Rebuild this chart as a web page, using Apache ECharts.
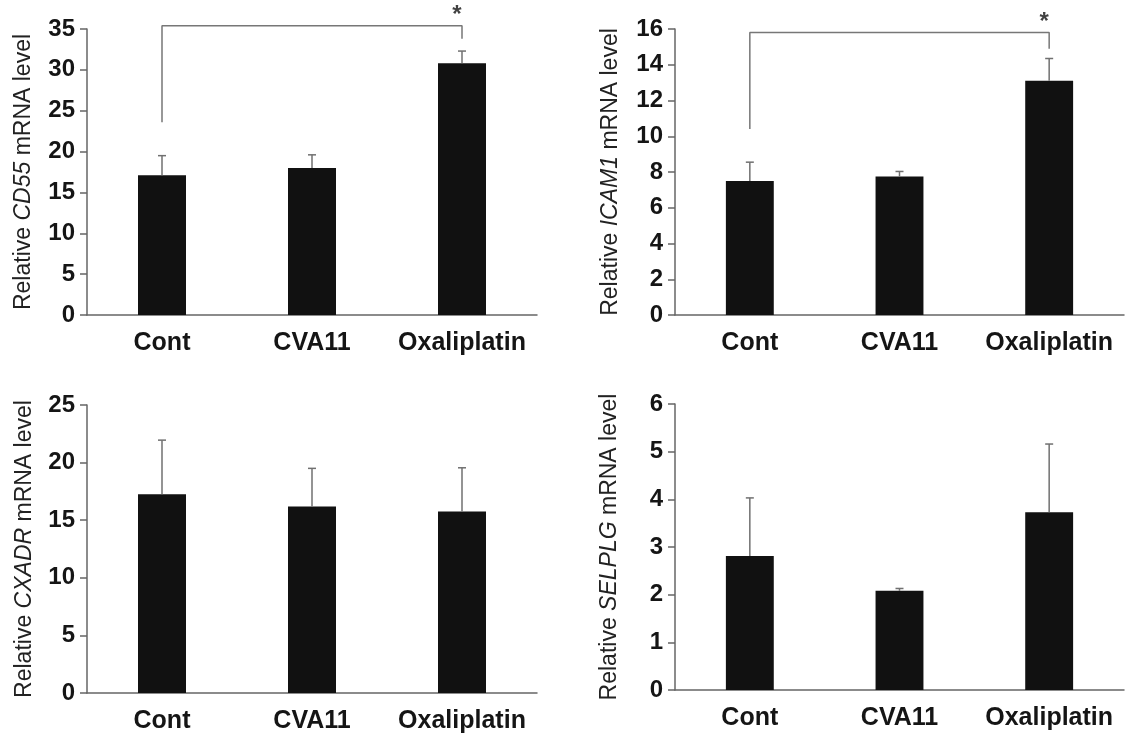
<!DOCTYPE html>
<html>
<head>
<meta charset="utf-8">
<script src="https://cdn.jsdelivr.net/npm/echarts@6/dist/echarts.min.js"></script>
<style>
html,body{margin:0;padding:0;background:#fff;}
#c{width:1126px;height:734px;}
</style>
</head>
<body>
<div id="c"></div>
<script>
// ---- data ----
const categories = ['Cont', 'CVA11', 'Oxaliplatin'];

const cd55Values = [17.1, 18.0, 30.8];
const cd55Sd = [2.4, 1.6, 1.5];
const cd55Bracket = [23.6, 35.4, 33.8]; // left foot, bar level, right foot

const icam1Values = [7.5, 7.75, 13.1];
const icam1Sd = [1.05, 0.28, 1.25];
const icam1Bracket = [10.4, 15.8, 14.9];

const cxadrValues = [17.25, 16.2, 15.75];
const cxadrSd = [4.7, 3.3, 3.8];

const selplgValues = [2.81, 2.08, 3.73];
const selplgSd = [1.22, 0.05, 1.43];

const genes = ['CD55', 'ICAM1', 'CXADR', 'SELPLG'];
const yMax = [35, 16, 25, 6];
const yStep = [5, 2, 5, 1];

// ---- layout ----
const grids = [
  {left: 87, right: 589, top: 29, bottom: 419},
  {left: 675, right: 2, top: 29, bottom: 419},
  {left: 87, right: 589, top: 405, bottom: 40},
  {left: 675, right: 2, top: 404, bottom: 44}
];
const nameGaps = [52, 53, 51, 54];

const values = [cd55Values, icam1Values, cxadrValues, selplgValues];
const sds = [cd55Sd, icam1Sd, cxadrSd, selplgSd];
const brackets = [cd55Bracket, icam1Bracket, null, null];

const axisColor = '#666';
const errColor = '#707070';
const font = 'Liberation Sans, Arial, sans-serif';

const option = {
  animation: false,
  backgroundColor: '#fff',
  grid: grids,
  xAxis: [],
  yAxis: [],
  series: []
};

for (let i = 0; i < 4; i++) {
  option.xAxis.push({
    type: 'category', gridIndex: i, data: categories,
    axisLine: {lineStyle: {color: axisColor, width: 1.5}},
    axisTick: {show: false},
    axisLabel: {interval: 0, hideOverlap: false, color: '#151515', fontWeight: 'bold',
      fontSize: 25, fontFamily: font, margin: 16}
  });
  option.yAxis.push({
    type: 'value', gridIndex: i, min: 0, max: yMax[i], interval: yStep[i],
    splitLine: {show: false},
    axisLine: {show: true, lineStyle: {color: axisColor, width: 1.5}},
    axisTick: {show: true, length: 7, lineStyle: {color: axisColor, width: 1.5}},
    axisLabel: {color: '#151515', fontWeight: 'bold', fontSize: 24, fontFamily: font, margin: 12},
    name: 'Relative {i|' + genes[i] + '} mRNA level',
    nameLocation: 'middle', nameRotate: 90, nameGap: nameGaps[i],
    nameTextStyle: {
      color: '#222', fontSize: 23, fontFamily: font,
      rich: {i: {fontStyle: 'italic', fontSize: 23, fontFamily: font, color: '#222'}}
    }
  });
  option.series.push({
    type: 'bar', xAxisIndex: i, yAxisIndex: i,
    data: values[i], barWidth: '32%',
    itemStyle: {color: '#111'}
  });
  option.series.push({
    type: 'custom', xAxisIndex: i, yAxisIndex: i, z: 5,
    data: values[i].map((v, k) => [k, v, v + sds[i][k]]),
    renderItem: function (params, api) {
      const x = api.value(0);
      const p0 = api.coord([x, api.value(1)]);
      const p1 = api.coord([x, api.value(2)]);
      const cap = 4;
      const st = {stroke: errColor, lineWidth: 1.5};
      return {
        type: 'group',
        children: [
          {type: 'line', shape: {x1: p0[0], y1: p0[1], x2: p1[0], y2: p1[1]}, style: st},
          {type: 'line', shape: {x1: p1[0] - cap, y1: p1[1], x2: p1[0] + cap, y2: p1[1]}, style: st}
        ]
      };
    }
  });
  if (brackets[i]) {
    const b = brackets[i];
    option.series.push({
      type: 'line', xAxisIndex: i, yAxisIndex: i, clip: false,
      symbol: 'none', z: 6,
      lineStyle: {color: '#777', width: 1.5},
      data: [[0, b[0]], [0, b[1]], [2, b[1]], [2, b[2]]]
    });
    option.series.push({
      type: 'scatter', xAxisIndex: i, yAxisIndex: i, clip: false,
      symbolSize: 0, z: 6,
      data: [[2, b[1]]],
      label: {show: true, formatter: '*', position: 'top', distance: -2, offset: [-5, 0],
        color: '#111', fontSize: 24, fontWeight: 'bold', fontFamily: font}
    });
  }
}

const chart = echarts.init(document.getElementById('c'));
chart.setOption(option);
</script>
</body>
</html>
